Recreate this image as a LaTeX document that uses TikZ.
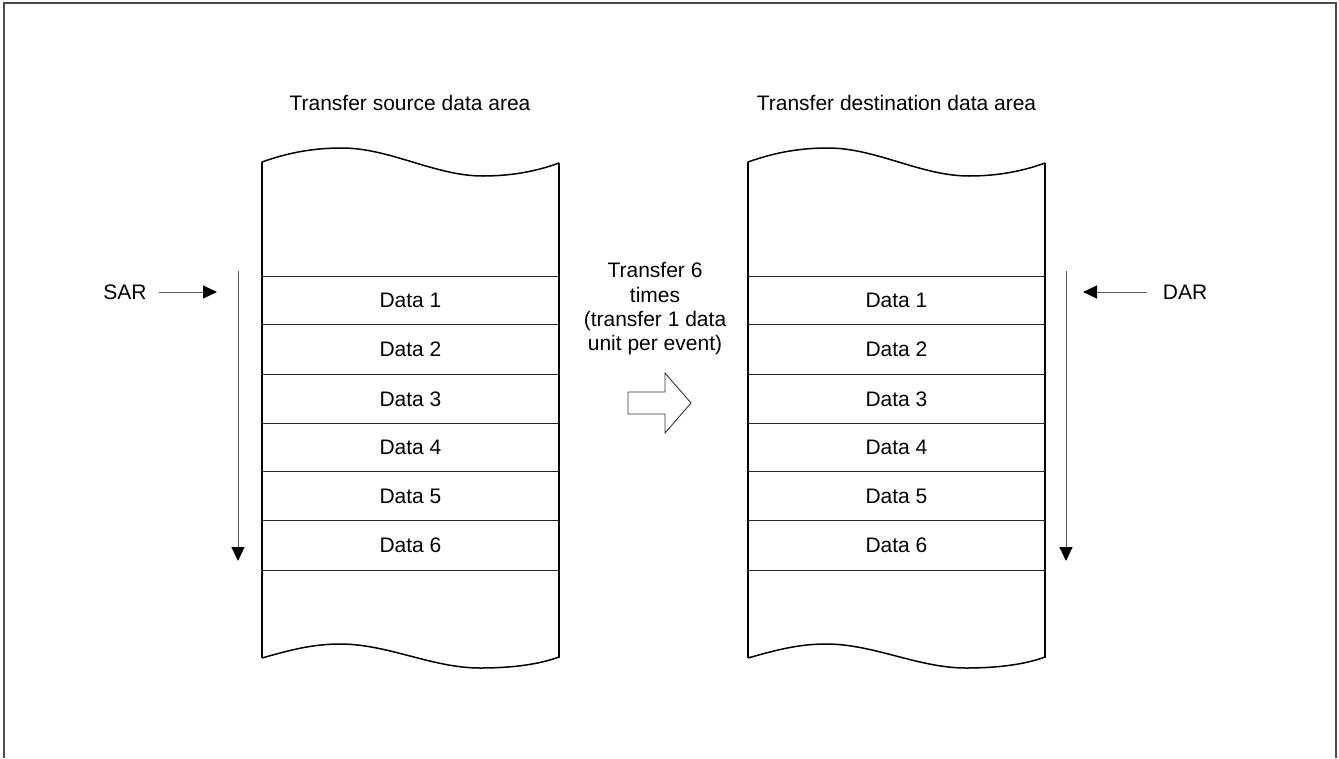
\documentclass[tikz,border=0pt]{standalone}
\usepackage{fontspec}
\setmainfont{Liberation Sans}
\usetikzlibrary{arrows.meta}
\begin{document}
\begin{tikzpicture}[x=1pt,y=-1pt,
  txt/.style={font=\fontsize{21}{24.3}\selectfont, inner sep=0pt, text height=15.2pt, text depth=0pt},
  cell/.style={txt},
  colline/.style={line width=1.5pt, black},
  rowline/.style={line width=1pt, black!85},
  frame/.style={line width=2pt, black!70},
  ptr/.style={line width=1pt, black!65, -{Triangle[length=14pt,width=13pt,color=black]}},
  blockarrow/.style={line width=0.9pt, black!80, line join=miter}]
\useasboundingbox (0,0) rectangle (1339,758);
% outer frame (bottom open)
\draw[frame] (4,758) -- (4,3) -- (1336,3) -- (1336,758);

% ---------- columns ----------
\foreach \c/\x in {L/262, R/748} {
  \pgfmathsetmacro{\xr}{\x+297}
  \draw[colline] (\x,162) .. controls (\x+28,152) and (\x+53,148) .. (\x+80,148)
     .. controls (\x+128,148) and (\x+173,176) .. (\x+221,176)
     .. controls (\x+253,176) and (\x+278,170) .. (\xr,163);
  \draw[colline] (\x,162) -- (\x,658);
  \draw[colline] (\xr,163) -- (\xr,658);
  \draw[colline] (\x,658) .. controls (\x+28,650) and (\x+51,644) .. (\x+78,644)
     .. controls (\x+126,644) and (\x+170,668) .. (\x+218,668)
     .. controls (\x+252,668) and (\x+278,664) .. (\xr,657);
  \foreach \y in {276,324,374,423,471,520,570}
    \draw[rowline] (\x,\y) -- (\xr,\y);
  \foreach \i/\ym in {1/300,2/349,3/398.5,4/447,5/495.5,6/545}
    \node[cell] (\c d\i) at (\x+148.5,\ym) {Data \i};
}

% titles
\node[txt] (tsrc) at (410,102.5) {Transfer source data area};
\node[txt] (tdst) at (896.5,102.5) {Transfer destination data area};

% SAR
\node[txt] (sar) at (125,292) {SAR};
\coordinate (sarend) at (217,292);
\draw[ptr] (sar.east) ++(12,0) coordinate (sarstart) -- (sarend);
\coordinate (lvt) at (238,271);
\coordinate (lvb) at (238,561);
\draw[ptr] (lvt) -- (lvb);

% DAR
\node[txt] (dar) at (1185,292) {DAR};
\coordinate (darend) at (1083,292);
\draw[ptr] (1147,292) coordinate (darstart) -- (darend);
\coordinate (rvt) at (1066,271);
\coordinate (rvb) at (1066,561);
\draw[ptr] (rvt) -- (rvb);

% centre text
\node[font=\fontsize{21}{24.3}\selectfont, inner sep=0pt, align=center, anchor=north] (ctext) at (655,262.5)
  {Transfer 6\\times\\(transfer 1 data\\unit per event)};

% block arrow
\draw[blockarrow] (628,392) -- (665,392) -- (665,373) -- (691,403) -- (665,433) -- (665,414) -- (628,414) -- cycle;
\end{tikzpicture}
\end{document}
